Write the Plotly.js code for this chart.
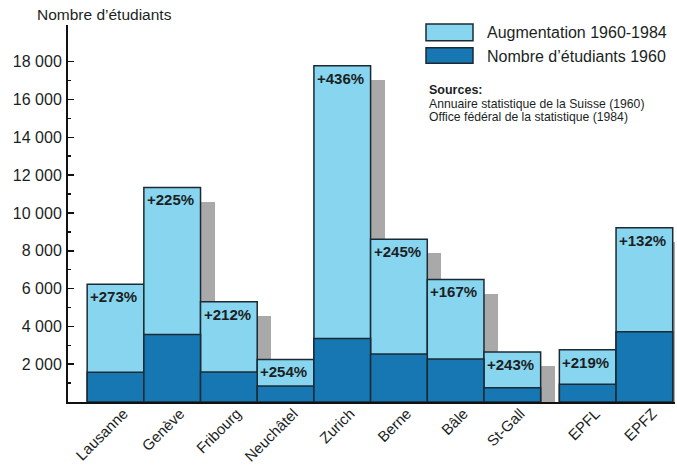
<!DOCTYPE html>
<html>
<head>
<meta charset="utf-8">
<script src="https://cdn.plot.ly/plotly-3.0.1.min.js"></script>
<style>html,body{margin:0;padding:0;background:#fff;}#chart{width:677px;height:466px;}</style>
</head>
<body>
<div id="chart"></div>
<script>
// ---- data ----
const categories = ['Lausanne','Genève','Fribourg','Neuchâtel','Zurich','Berne','Bâle','St-Gall','EPFL','EPFZ'];
const groups = ['uni','uni','uni','uni','uni','uni','uni','uni','epf','epf'];
const students1960 = [1580, 3570, 1590, 840, 3360, 2540, 2280, 750, 940, 3710];
const students1984 = [6230, 11350, 5300, 2250, 17780, 8610, 6480, 2650, 2760, 9210];
const increaseLabels = ['+273%','+225%','+212%','+254%','+436%','+245%','+167%','+243%','+219%','+132%'];
const yTickValues = [2000, 4000, 6000, 8000, 10000, 12000, 14000, 16000, 18000];
const yTickLabels = ['2 000','4 000','6 000','8 000','10 000','12 000','14 000','16 000','18 000'];

// ---- styling ----
const W = 677, H = 466;
const M = {l: 68, r: 2, t: 25, b: 64};
const LIGHT = '#88d5ef', DARK = '#1677b3', SHADOW = '#a9a9a9', EDGE = '#1c2a33', INK = '#1b1f24';
const FONT = 'Liberation Sans, Arial, Helvetica, sans-serif';
const groupGap = 0.33, shadowDx = 0.25, shadowDrop = 750;

const pos = categories.map((c, i) => i + (groups[i] === 'epf' ? groupGap : 0));
const minorTicks = yTickValues.map(v => v - 1000);

const px = x => (x - M.l) / (W - M.l - M.r);
const py = y => (H - M.b - y) / (H - M.t - M.b);

const traces = [
  {type: 'bar', x: pos.map(p => p + shadowDx), y: students1984.map(v => v - shadowDrop), width: 1,
   marker: {color: SHADOW, line: {width: 0}}, hoverinfo: 'skip', showlegend: false},
  {type: 'bar', x: pos, y: students1984, width: 1, name: 'Augmentation 1960-1984',
   marker: {color: LIGHT, line: {color: EDGE, width: 1.5}}, showlegend: false},
  {type: 'bar', x: pos, y: students1960, width: 1, name: "Nombre d’étudiants 1960",
   marker: {color: DARK, line: {color: EDGE, width: 1.5}}, showlegend: false}
];

const annotations = pos.map((p, i) => ({
  x: p - 0.5, y: students1984[i], xref: 'x', yref: 'y', xanchor: 'left', yanchor: 'top',
  xshift: 2, yshift: -3, showarrow: false, text: '<b>' + increaseLabels[i] + '</b>',
  font: {family: FONT, size: 15, color: INK}, borderpad: 0
}));

annotations.push(
  {x: px(35), y: py(15), xref: 'paper', yref: 'paper', xanchor: 'left', yanchor: 'middle', showarrow: false,
   text: 'Nombre d’étudiants', font: {family: FONT, size: 15.5, color: INK}},
  {x: px(485), y: py(32.5), xref: 'paper', yref: 'paper', xanchor: 'left', yanchor: 'middle', showarrow: false,
   text: 'Augmentation 1960-1984', font: {family: FONT, size: 16, color: INK}},
  {x: px(485), y: py(56), xref: 'paper', yref: 'paper', xanchor: 'left', yanchor: 'middle', showarrow: false,
   text: 'Nombre d’étudiants 1960', font: {family: FONT, size: 16, color: INK}},
  {x: px(427), y: py(90), xref: 'paper', yref: 'paper', xanchor: 'left', yanchor: 'middle', showarrow: false,
   text: '<b>Sources:</b>', font: {family: FONT, size: 12.5, color: INK}},
  {x: px(427), y: py(104), xref: 'paper', yref: 'paper', xanchor: 'left', yanchor: 'middle', showarrow: false,
   text: 'Annuaire statistique de la Suisse (1960)', font: {family: FONT, size: 12.2, color: INK}},
  {x: px(427), y: py(117), xref: 'paper', yref: 'paper', xanchor: 'left', yanchor: 'middle', showarrow: false,
   text: 'Office fédéral de la statistique (1984)', font: {family: FONT, size: 12.2, color: INK}}
);

const shapes = [
  {type: 'rect', xref: 'paper', yref: 'paper', x0: px(426), x1: px(473), y0: py(40.7), y1: py(24),
   fillcolor: LIGHT, line: {color: EDGE, width: 1.5}},
  {type: 'rect', xref: 'paper', yref: 'paper', x0: px(426), x1: px(473), y0: py(63.3), y1: py(47.7),
   fillcolor: DARK, line: {color: EDGE, width: 1.5}}
];

const layout = {
  width: W, height: H, margin: M, paper_bgcolor: '#fff', plot_bgcolor: '#fff',
  barmode: 'overlay', bargap: 0, showlegend: false,
  font: {family: FONT, color: INK},
  xaxis: {range: [-0.838, 9.87], tickvals: pos, ticktext: categories, tickangle: -45,
          tickfont: {family: FONT, size: 15, color: INK}, showline: true, linecolor: '#111', linewidth: 2,
          ticklabelshift: 8, ticklabelstandoff: -5,
          ticks: '', showgrid: false, zeroline: false, fixedrange: true},
  yaxis: {range: [0, 19940], tickvals: yTickValues, ticktext: yTickLabels,
          tickfont: {family: FONT, size: 16, color: INK}, showline: true, linecolor: '#111', linewidth: 2,
          ticks: 'inside', ticklen: 6, tickwidth: 1.5, tickcolor: '#111', ticklabelstandoff: 1,
          minor: {tickmode: 'array', tickvals: minorTicks, ticks: 'inside', ticklen: 3, tickwidth: 1.5, tickcolor: '#111'},
          showgrid: false, zeroline: false, fixedrange: true},
  annotations: annotations, shapes: shapes
};

Plotly.newPlot('chart', traces, layout, {staticPlot: true, displayModeBar: false});
</script>
</body>
</html>
